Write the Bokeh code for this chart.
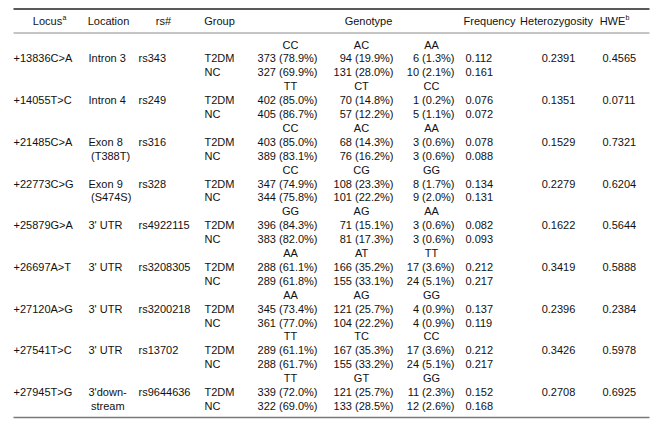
from bokeh.plotting import figure
from bokeh.models import Range1d, ColumnDataSource
from bokeh.embed import file_html
from bokeh.resources import INLINE
from bokeh.core.properties import value

# ---------------- data ----------------
loci = ["+13836C>A", "+14055T>C", "+21485C>A", "+22773C>G", "+25879G>A",
        "+26697A>T", "+27120A>G", "+27541T>C", "+27945T>G"]
location_1 = ["Intron 3", "Intron 4", "Exon 8", "Exon 9", "3' UTR",
              "3' UTR", "3' UTR", "3' UTR", "3'down-"]
location_2 = ["", "", "(T388T)", "(S474S)", "", "", "", "", "stream"]
rs_ids = ["rs343", "rs249", "rs316", "rs328", "rs4922115",
          "rs3208305", "rs3200218", "rs13702", "rs9644636"]
genotypes = [["CC", "AC", "AA"], ["TT", "CT", "CC"], ["CC", "AC", "AA"],
             ["CC", "CG", "GG"], ["GG", "AG", "AA"], ["AA", "AT", "TT"],
             ["AA", "AG", "GG"], ["TT", "TC", "CC"], ["TT", "GT", "GG"]]
groups = ["T2DM", "NC"]
t2dm_n = [[373, 94, 6], [402, 70, 1], [403, 68, 3], [347, 108, 8], [396, 71, 3],
          [288, 166, 17], [345, 121, 4], [289, 167, 17], [339, 121, 11]]
t2dm_pct = [[78.9, 19.9, 1.3], [85.0, 14.8, 0.2], [85.0, 14.3, 0.6], [74.9, 23.3, 1.7],
            [84.3, 15.1, 0.6], [61.1, 35.2, 3.6], [73.4, 25.7, 0.9], [61.1, 35.3, 3.6],
            [72.0, 25.7, 2.3]]
nc_n = [[327, 131, 10], [405, 57, 5], [389, 76, 3], [344, 101, 9], [383, 81, 3],
        [289, 155, 24], [361, 104, 4], [288, 155, 24], [322, 133, 12]]
nc_pct = [[69.9, 28.0, 2.1], [86.7, 12.2, 1.1], [83.1, 16.2, 0.6], [75.8, 22.2, 2.0],
          [82.0, 17.3, 0.6], [61.8, 33.1, 5.1], [77.0, 22.2, 0.9], [61.7, 33.2, 5.1],
          [69.0, 28.5, 2.6]]
freq_t2dm = ["0.112", "0.076", "0.078", "0.134", "0.082", "0.212", "0.137", "0.212", "0.152"]
freq_nc = ["0.161", "0.072", "0.088", "0.131", "0.093", "0.217", "0.119", "0.217", "0.168"]
heterozygosity = ["0.2391", "0.1351", "0.1529", "0.2279", "0.1622",
                  "0.3419", "0.2396", "0.3426", "0.2708"]
hwe = ["0.4565", "0.0711", "0.7321", "0.6204", "0.5644",
       "0.5888", "0.2384", "0.5978", "0.6925"]
headers = ["Locus", "Location", "rs#", "Group", "Genotype", "Frequency", "Heterozygosity", "HWE"]
header_notes = ["a", "b"]

# ---------------- layout ----------------
FONT = value("Liberation Sans")
FS = "11px"
COLOR = "#111111"
LS = 13.9          # line spacing
Y0 = 44            # first genotype header line
X_LOCUS, X_LOC, X_LOC2, X_RS, X_GRP = 13, 88, 90.5, 138, 204
X_G_RIGHT = [317, 393, 454]
X_G_HEAD = [290, 361, 431]
X_FREQ, X_HET, X_HWE = 465, 558, 602
HEAD_X = [47, 108, 163, 219, 368, 489, 556, 612]
HEAD_Y = 20.5

W, H = 658, 424
p = figure(width=W, height=H, x_range=Range1d(0, W), y_range=Range1d(H, 0),
           output_backend="svg", toolbar_location=None, min_border=0)
p.axis.visible = False
p.grid.visible = False
p.outline_line_color = None
p.background_fill_color = "white"
p.border_fill_color = "white"

def put(xs, ys, texts, align="left", size=FS, color=COLOR):
    src = ColumnDataSource(dict(x=xs, y=ys, t=texts))
    p.text("x", "y", text="t", source=src, text_font=FONT, text_font_size=size,
           text_align=align, text_baseline="middle", text_color=color)

# rules
p.segment(x0=[13], y0=[8.5], x1=[649], y1=[8.5], line_color="#222222", line_width=1.5)
p.segment(x0=[13], y0=[32.5], x1=[649], y1=[32.5], line_color="#8a8a8a", line_width=1)
p.segment(x0=[13], y0=[417], x1=[649], y1=[417], line_color="#7a7a7a", line_width=1.5)

# headers
put(HEAD_X, [HEAD_Y] * len(headers), headers, align="center")
put([HEAD_X[0] + 15, HEAD_X[7] + 13], [HEAD_Y - 4, HEAD_Y - 4], header_notes, size="7px")

# body
xs, ys, ts = [], [], []
cx, cy, ct = [], [], []
rx, ry, rt = [], [], []
for i in range(len(loci)):
    yh = Y0 + i * 3 * LS
    y1 = yh + LS
    y2 = yh + 2 * LS
    xs += [X_LOCUS, X_LOC, X_RS, X_GRP, X_GRP, X_FREQ, X_FREQ, X_HWE]
    ys += [y1, y1, y1, y1, y2, y1, y2, y1]
    ts += [loci[i], location_1[i], rs_ids[i], groups[0], groups[1],
           freq_t2dm[i], freq_nc[i], hwe[i]]
    if location_2[i]:
        xs.append(X_LOC2); ys.append(y2); ts.append(location_2[i])
    cx += X_G_HEAD + [X_HET]
    cy += [yh] * 3 + [y1]
    ct += genotypes[i] + [heterozygosity[i]]
    for k in range(3):
        rx += [X_G_RIGHT[k], X_G_RIGHT[k]]
        ry += [y1, y2]
        rt += ["%d (%.1f%%)" % (t2dm_n[i][k], t2dm_pct[i][k]),
               "%d (%.1f%%)" % (nc_n[i][k], nc_pct[i][k])]

put(xs, ys, ts, align="left")
put(cx, cy, ct, align="center")
put(rx, ry, rt, align="right")

open("out.html", "w").write(file_html(p, INLINE))
